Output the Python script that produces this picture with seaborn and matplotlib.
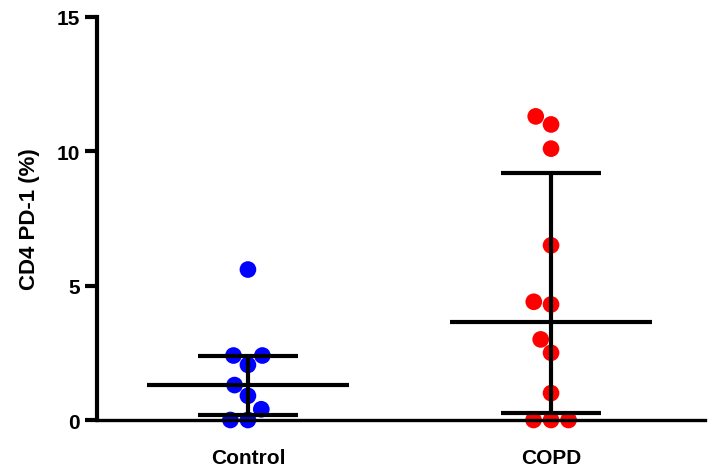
import numpy as np
import pandas as pd
import matplotlib
matplotlib.use("Agg")
import matplotlib.pyplot as plt
import seaborn as sns

# CD4 PD-1 (%) per subject
groups = ["Control", "COPD"]
control_vals = [5.6, 2.4, 2.4, 2.05, 1.3, 0.9, 0.4, 0.0, 0.0]
copd_vals = [11.3, 11.0, 10.1, 6.5, 4.4, 4.3, 3.0, 2.5, 1.0, 0.0, 0.0, 0.0]
group_colors = ["#0000FF", "#FF0000"]
y_ticks = [0, 5, 10, 15]
y_label = "CD4 PD-1 (%)"

df = pd.DataFrame({
    "group": ["Control"] * len(control_vals) + ["COPD"] * len(copd_vals),
    "value": control_vals + copd_vals,
})

sns.set_theme(style="ticks")
plt.rcParams["font.family"] = ["Liberation Sans", "DejaVu Sans"]
plt.rcParams.update({
    "text.color": "black",
    "axes.labelcolor": "black",
    "xtick.color": "black",
    "ytick.color": "black",
    "axes.edgecolor": "black",
})

fig = plt.figure(figsize=(7.11, 4.77), dpi=100)
ax = fig.add_axes([0.1364, 0.1174, 0.8552, 0.8449])

sns.swarmplot(data=df, x="group", y="value", hue="group", order=groups,
              palette=group_colors, size=12, linewidth=0, legend=False,
              ax=ax, zorder=2)
for coll in ax.collections:
    coll.set_clip_on(False)

# median with interquartile range
for i, vals in enumerate([control_vals, copd_vals]):
    v = np.asarray(vals)
    med = np.median(v)
    q1, q3 = np.percentile(v, [25, 75], method="weibull")
    ax.hlines(med, i - 0.333, i + 0.333, color="black", lw=3.0, zorder=3)
    ax.vlines(i, q1, q3, color="black", lw=3.0, zorder=3)
    ax.hlines([q1, q3], i - 0.165, i + 0.165, color="black", lw=3.0, zorder=3)

ax.set_xlim(-0.498, 1.508)
ax.set_ylim(0, 15)
ax.set_yticks(y_ticks)
ax.set_yticklabels([str(t) for t in y_ticks])
ax.set_xlabel("")
ax.set_ylabel(y_label, fontsize=16, fontweight="bold", labelpad=12)

for side in ["top", "right"]:
    ax.spines[side].set_visible(False)
ax.spines["left"].set_linewidth(3.0)
ax.spines["bottom"].set_linewidth(2.4)
ax.spines["left"].set_zorder(4)
ax.spines["bottom"].set_zorder(4)

ax.tick_params(axis="y", length=8.5, width=3.0, pad=4, labelsize=15)
ax.tick_params(axis="x", length=4.5, width=2.0, pad=16, labelsize=15)
for lab in ax.get_xticklabels() + ax.get_yticklabels():
    lab.set_fontweight("bold")

fig.savefig("out.png", dpi=100)
